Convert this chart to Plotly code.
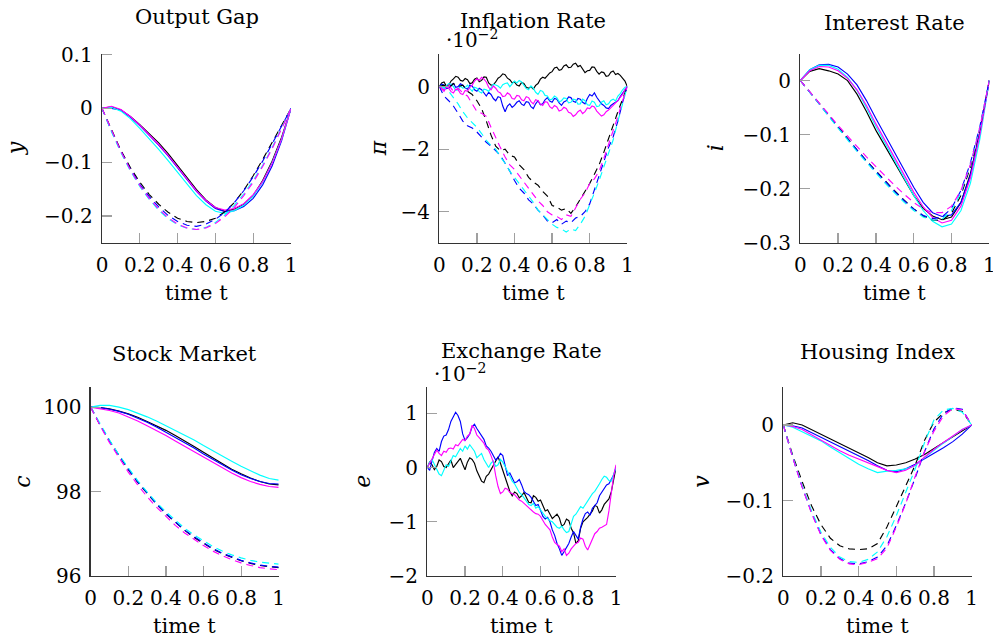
import plotly.graph_objects as go

# ---------------- time grids ----------------
t21 = [0, 0.05, 0.1, 0.15, 0.2, 0.25, 0.3, 0.35, 0.4, 0.45, 0.5, 0.55, 0.6, 0.65, 0.7, 0.75, 0.8, 0.85, 0.9, 0.95, 1]
t41 = [i / 40 for i in range(41)]
t81 = [i / 80 for i in range(81)]

x_ticks = [0, 0.2, 0.4, 0.6, 0.8, 1]
x_tick_labels = ["0", "0.2", "0.4", "0.6", "0.8", "1"]

# ---------------- Output Gap (y) ----------------
gap_black = [0, 0.003, -0.003, -0.015, -0.030, -0.047, -0.064, -0.084, -0.107, -0.129, -0.151, -0.170, -0.184, -0.191, -0.187, -0.178, -0.162, -0.134, -0.098, -0.054, 0.0]
gap_blue = [0, 0.000, -0.003, -0.016, -0.032, -0.050, -0.068, -0.088, -0.110, -0.132, -0.154, -0.172, -0.186, -0.192, -0.190, -0.182, -0.167, -0.142, -0.107, -0.060, 0.0]
gap_cyan = [0, 0.002, -0.005, -0.019, -0.037, -0.056, -0.076, -0.097, -0.119, -0.141, -0.162, -0.179, -0.191, -0.195, -0.190, -0.180, -0.163, -0.137, -0.101, -0.057, 0.0]
gap_magenta = [0, 0.004, -0.002, -0.015, -0.031, -0.049, -0.067, -0.087, -0.109, -0.131, -0.153, -0.171, -0.184, -0.189, -0.186, -0.177, -0.160, -0.136, -0.102, -0.057, 0.0]
gap_black_d = [0, -0.040, -0.078, -0.110, -0.137, -0.160, -0.178, -0.193, -0.204, -0.210, -0.212, -0.210, -0.204, -0.192, -0.175, -0.152, -0.125, -0.095, -0.063, -0.030, 0]
gap_blue_d = [0, -0.042, -0.080, -0.113, -0.141, -0.164, -0.183, -0.199, -0.210, -0.217, -0.219, -0.215, -0.206, -0.193, -0.175, -0.153, -0.127, -0.098, -0.066, -0.032, 0]
gap_cyan_d = [0, -0.043, -0.082, -0.116, -0.145, -0.169, -0.189, -0.205, -0.216, -0.223, -0.225, -0.221, -0.212, -0.198, -0.180, -0.159, -0.134, -0.106, -0.073, -0.037, 0]
gap_magenta_d = [0, -0.041, -0.080, -0.114, -0.143, -0.167, -0.187, -0.203, -0.215, -0.222, -0.225, -0.222, -0.214, -0.201, -0.184, -0.162, -0.137, -0.108, -0.075, -0.038, 0]

# ---------------- Inflation Rate (pi, x 1e-2) ----------------
inf_black = [0, 0.12, 0.15, 0.02, 0.05, 0.18, 0.25, 0.33, 0.30, 0.20,
             0.18, 0.26, 0.22, 0.10, 0.12, 0.24, 0.28, 0.16, 0.20, 0.31,
             0.30, 0.12, 0.05, 0.06, 0.15, 0.27, 0.32, 0.41, 0.38, 0.27,
             0.22, 0.12, 0.15, 0.05, 0.02, 0.13, 0.10, -0.02, -0.05, 0.00,
             -0.08, 0.04, 0.10, 0.24, 0.30, 0.27, 0.35, 0.44, 0.48, 0.60,
             0.62, 0.52, 0.55, 0.66, 0.70, 0.61, 0.62, 0.72, 0.75, 0.64,
             0.68, 0.55, 0.45, 0.51, 0.52, 0.63, 0.62, 0.49, 0.40, 0.47,
             0.45, 0.33, 0.35, 0.46, 0.50, 0.39, 0.42, 0.36, 0.25, 0.18, 0.0]
inf_blue = [0, 0.08, 0.05, -0.06, -0.05, 0.06, 0.10, -0.02, 0.00, 0.09,
            0.05, -0.04, -0.08, 0.05, 0.02, -0.10, -0.15, -0.05, -0.10, -0.22,
            -0.30, -0.18, -0.25, -0.38, -0.45, -0.32, -0.35, -0.62, -0.80, -0.62,
            -0.55, -0.66, -0.60, -0.50, -0.45, -0.56, -0.60, -0.48, -0.50, -0.64,
            -0.70, -0.55, -0.45, -0.58, -0.55, -0.42, -0.35, -0.46, -0.50, -0.38,
            -0.40, -0.52, -0.60, -0.49, -0.45, -0.33, -0.35, -0.47, -0.50, -0.38,
            -0.40, -0.50, -0.55, -0.38, -0.25, -0.30, -0.20, -0.34, -0.45, -0.55,
            -0.60, -0.68, -0.70, -0.60, -0.55, -0.50, -0.45, -0.32, -0.20, -0.12, 0.0]
inf_cyan = [0, 0.04, -0.05, 0.02, 0.10, 0.08, 0.00, -0.12, -0.10, 0.02,
            -0.05, -0.03, 0.05, -0.06, -0.15, -0.02, -0.05, -0.16, -0.20, -0.08,
            -0.10, -0.15, -0.02, 0.08, 0.05, 0.02, -0.05, 0.06, 0.10, 0.12,
            0.00, 0.10, 0.18, 0.12, 0.20, 0.15, 0.05, -0.06, -0.10, 0.02,
            -0.05, -0.18, -0.25, -0.12, -0.15, -0.28, -0.30, -0.42, -0.40, -0.30,
            -0.35, -0.48, -0.45, -0.36, -0.38, -0.52, -0.50, -0.40, -0.42, -0.56,
            -0.55, -0.40, -0.45, -0.58, -0.60, -0.46, -0.50, -0.64, -0.62, -0.50,
            -0.45, -0.58, -0.55, -0.44, -0.40, -0.46, -0.30, -0.22, -0.10, -0.02, 0.0]
inf_magenta = [0, -0.08, -0.15, -0.02, -0.05, -0.16, -0.20, -0.08, -0.10, -0.22,
               -0.25, -0.12, -0.15, -0.02, 0.05, 0.18, 0.25, 0.20, 0.30, 0.24,
               0.15, -0.02, -0.10, 0.02, -0.05, -0.16, -0.20, -0.32, -0.30, -0.20,
               -0.25, -0.38, -0.40, -0.28, -0.30, -0.42, -0.45, -0.32, -0.35, -0.48,
               -0.55, -0.42, -0.45, -0.56, -0.60, -0.48, -0.50, -0.64, -0.70, -0.60,
               -0.65, -0.78, -0.75, -0.66, -0.70, -0.82, -0.85, -0.95, -0.90, -0.80,
               -0.75, -0.86, -0.80, -0.68, -0.70, -0.62, -0.65, -0.78, -0.85, -0.94,
               -0.90, -0.80, -0.75, -0.66, -0.60, -0.52, -0.45, -0.34, -0.25, -0.10, 0.0]
inf_black_d = [0, 0.05, -0.05, 0.10, 0.00, 0.05, -0.15, -0.25, -0.45, -0.70, -1.10, -1.55, -1.90, -2.05, -2.00, -2.20, -2.25, -2.50, -2.65, -2.90,
               -3.05, -3.15, -3.35, -3.50, -3.80, -3.85, -3.95, -3.90, -4.05, -3.85, -3.60, -3.35, -3.10, -2.80, -2.50, -2.10, -1.65, -1.20, -0.80, -0.40, 0]
inf_blue_d = [0, -0.30, -0.45, -0.62, -0.85, -1.10, -1.25, -1.32, -1.45, -1.62, -1.78, -1.90, -2.05, -2.20, -2.45, -2.70, -3.00, -3.25, -3.40, -3.62,
              -3.75, -3.95, -4.10, -4.30, -4.35, -4.25, -4.40, -4.30, -4.35, -4.20, -4.15, -4.00, -3.75, -3.30, -2.85, -2.35, -1.95, -1.60, -1.10, -0.50, 0]
inf_cyan_d = [0, -0.05, -0.15, -0.35, -0.55, -0.80, -1.00, -1.15, -1.30, -1.50, -1.72, -1.88, -2.00, -2.25, -2.45, -2.70, -2.90, -3.10, -3.30, -3.50,
              -3.70, -3.95, -4.10, -4.25, -4.40, -4.50, -4.55, -4.65, -4.55, -4.60, -4.40, -4.15, -3.80, -3.40, -3.00, -2.55, -2.15, -1.70, -1.10, -0.55, 0]
inf_magenta_d = [0, -0.10, 0.05, -0.15, -0.05, -0.20, -0.30, -0.55, -0.80, -0.85, -0.95, -1.30, -1.65, -1.95, -2.25, -2.50, -2.65, -2.85, -3.05, -3.25,
                 -3.45, -3.65, -3.80, -4.00, -4.10, -4.15, -4.25, -4.10, -4.15, -3.85, -3.60, -3.40, -3.10, -2.95, -2.70, -2.30, -1.85, -1.45, -0.95, -0.45, 0]

# ---------------- Interest Rate (i) ----------------
int_black = [0, 0.017, 0.022, 0.018, 0.012, 0.000, -0.025, -0.057, -0.092, -0.122, -0.152, -0.183, -0.212, -0.236, -0.250, -0.257, -0.252, -0.225, -0.172, -0.095, 0]
int_blue = [0, 0.020, 0.029, 0.030, 0.025, 0.012, -0.008, -0.037, -0.070, -0.102, -0.134, -0.166, -0.197, -0.225, -0.244, -0.251, -0.248, -0.225, -0.175, -0.098, 0]
int_cyan = [0, 0.020, 0.028, 0.028, 0.021, 0.006, -0.018, -0.050, -0.085, -0.117, -0.148, -0.180, -0.212, -0.240, -0.260, -0.270, -0.265, -0.240, -0.190, -0.108, 0]
int_magenta = [0, 0.018, 0.026, 0.025, 0.018, 0.004, -0.017, -0.046, -0.080, -0.112, -0.143, -0.175, -0.206, -0.233, -0.253, -0.263, -0.258, -0.232, -0.180, -0.100, 0]
int_black_d = [0, -0.020, -0.042, -0.064, -0.086, -0.107, -0.128, -0.148, -0.167, -0.186, -0.204, -0.221, -0.237, -0.250, -0.258, -0.258, -0.245, -0.212, -0.160, -0.090, 0]
int_blue_d = [0, -0.021, -0.043, -0.065, -0.087, -0.108, -0.129, -0.149, -0.168, -0.187, -0.205, -0.222, -0.237, -0.249, -0.255, -0.252, -0.236, -0.203, -0.152, -0.085, 0]
int_cyan_d = [0, -0.021, -0.043, -0.066, -0.088, -0.110, -0.131, -0.151, -0.171, -0.190, -0.208, -0.225, -0.240, -0.252, -0.258, -0.256, -0.240, -0.207, -0.156, -0.087, 0]
int_magenta_d = [0, -0.020, -0.041, -0.062, -0.083, -0.103, -0.122, -0.141, -0.159, -0.177, -0.194, -0.210, -0.225, -0.237, -0.244, -0.244, -0.232, -0.203, -0.155, -0.087, 0]

# ---------------- Stock Market (c) ----------------
stk_black = [100, 99.99, 99.96, 99.91, 99.84, 99.76, 99.66, 99.56, 99.45, 99.33, 99.21, 99.07, 98.93, 98.79, 98.65, 98.53, 98.42, 98.32, 98.24, 98.18, 98.16]
stk_blue = [100, 99.99, 99.95, 99.90, 99.83, 99.74, 99.64, 99.53, 99.41, 99.29, 99.16, 99.03, 98.89, 98.76, 98.63, 98.51, 98.40, 98.31, 98.24, 98.19, 98.18]
stk_cyan = [100, 100.04, 100.04, 100.00, 99.94, 99.86, 99.77, 99.67, 99.56, 99.45, 99.34, 99.22, 99.09, 98.96, 98.84, 98.72, 98.60, 98.49, 98.39, 98.31, 98.27]
stk_magenta = [100, 99.96, 99.92, 99.86, 99.77, 99.67, 99.56, 99.45, 99.33, 99.20, 99.07, 98.94, 98.81, 98.68, 98.55, 98.44, 98.33, 98.24, 98.17, 98.12, 98.10]
stk_black_d = [100, 99.58, 99.20, 98.85, 98.52, 98.22, 97.95, 97.70, 97.47, 97.27, 97.08, 96.91, 96.77, 96.64, 96.53, 96.44, 96.36, 96.30, 96.25, 96.22, 96.20]
stk_blue_d = [100, 99.58, 99.20, 98.85, 98.53, 98.23, 97.96, 97.71, 97.48, 97.28, 97.09, 96.93, 96.78, 96.65, 96.54, 96.45, 96.37, 96.31, 96.26, 96.23, 96.21]
stk_cyan_d = [100, 99.60, 99.22, 98.87, 98.55, 98.26, 97.99, 97.74, 97.52, 97.32, 97.13, 96.97, 96.83, 96.70, 96.59, 96.50, 96.43, 96.37, 96.33, 96.30, 96.28]
stk_magenta_d = [100, 99.56, 99.16, 98.80, 98.46, 98.16, 97.88, 97.63, 97.41, 97.20, 97.02, 96.86, 96.72, 96.59, 96.48, 96.39, 96.31, 96.25, 96.20, 96.17, 96.15]

# ---------------- Exchange Rate (e, x 1e-2) ----------------
exc_black = [0, 0.10, 0.05, -0.04, 0.02, 0.14, 0.11, 0.02, 0.00, 0.08,
             0.14, 0.00, 0.05, 0.12, 0.17, 0.06, -0.04, 0.10, 0.18, 0.15,
             0.08, -0.06, -0.15, -0.25, -0.28, -0.16, -0.12, -0.04, 0.02, 0.12,
             0.20, 0.08, -0.05, -0.20, -0.30, -0.44, -0.52, -0.45, -0.48, -0.56,
             -0.52, -0.46, -0.55, -0.64, -0.65, -0.52, -0.55, -0.62, -0.60, -0.72,
             -0.80, -0.78, -0.85, -0.94, -0.90, -0.86, -0.93, -1.08, -1.05, -0.95,
             -0.98, -1.12, -1.20, -1.40, -1.35, -1.12, -1.00, -0.96, -0.92, -0.86,
             -0.80, -0.70, -0.72, -0.84, -0.78, -0.68, -0.62, -0.58, -0.45, -0.25, 0.0]
exc_blue = [0, -0.05, 0.12, 0.28, 0.35, 0.30, 0.48, 0.58, 0.60, 0.70,
            0.85, 0.95, 1.02, 0.96, 0.85, 0.62, 0.50, 0.55, 0.62, 0.75,
            0.80, 0.72, 0.66, 0.60, 0.52, 0.40, 0.36, 0.30, 0.22, 0.14,
            0.18, 0.26, 0.22, 0.05, -0.15, -0.10, -0.20, -0.28, -0.26, -0.22,
            -0.32, -0.44, -0.48, -0.50, -0.55, -0.64, -0.70, -0.68, -0.80, -0.90,
            -0.95, -0.92, -1.00, -1.15, -1.25, -1.40, -1.50, -1.62, -1.55, -1.48,
            -1.40, -1.28, -1.18, -1.25, -1.32, -1.10, -0.95, -0.85, -0.82, -0.88,
            -0.75, -0.70, -0.65, -0.52, -0.45, -0.38, -0.32, -0.30, -0.22, -0.14, 0.0]
exc_cyan = [0, 0.10, 0.15, 0.05, -0.02, -0.12, -0.15, -0.04, 0.05, 0.02,
            0.12, 0.22, 0.20, 0.28, 0.35, 0.30, 0.40, 0.34, 0.42, 0.36,
            0.30, 0.18, 0.22, 0.26, 0.15, 0.06, 0.00, 0.08, 0.12, 0.02,
            0.05, 0.15, 0.10, 0.02, -0.08, -0.15, -0.25, -0.30, -0.38, -0.46,
            -0.50, -0.55, -0.62, -0.68, -0.70, -0.66, -0.75, -0.72, -0.78, -0.86,
            -0.90, -0.94, -0.98, -1.00, -1.05, -1.10, -1.12, -1.08, -1.15, -1.20,
            -1.18, -1.02, -0.90, -0.86, -0.80, -0.72, -0.75, -0.68, -0.62, -0.55,
            -0.48, -0.44, -0.38, -0.30, -0.22, -0.16, -0.18, -0.24, -0.25, -0.12, 0.0]
exc_magenta = [0, 0.08, 0.18, 0.25, 0.32, 0.26, 0.22, 0.30, 0.28, 0.35,
               0.36, 0.34, 0.42, 0.40, 0.46, 0.52, 0.50, 0.58, 0.62, 0.78,
               0.72, 0.60, 0.55, 0.50, 0.45, 0.36, 0.32, 0.22, 0.10, -0.15,
               -0.35, -0.48, -0.45, -0.38, -0.40, -0.46, -0.48, -0.50, -0.55, -0.60,
               -0.62, -0.66, -0.70, -0.75, -0.78, -0.82, -0.85, -0.86, -0.90, -0.98,
               -1.05, -1.10, -1.15, -1.28, -1.38, -1.42, -1.45, -1.55, -1.50, -1.62,
               -1.58, -1.50, -1.45, -1.40, -1.38, -1.30, -1.32, -1.45, -1.52, -1.42,
               -1.30, -1.22, -1.18, -1.12, -1.10, -1.08, -1.05, -0.80, -0.45, -0.15, 0.05]

# ---------------- Housing Index (v) ----------------
hou_black = [0, 0.003, 0.000, -0.006, -0.012, -0.018, -0.024, -0.030, -0.036, -0.043, -0.050, -0.054, -0.053, -0.050, -0.045, -0.039, -0.031, -0.023, -0.015, -0.007, 0]
hou_blue = [0, -0.001, -0.004, -0.010, -0.017, -0.023, -0.029, -0.035, -0.041, -0.047, -0.054, -0.060, -0.062, -0.058, -0.052, -0.045, -0.037, -0.030, -0.022, -0.012, 0]
hou_cyan = [0, -0.003, -0.009, -0.015, -0.021, -0.029, -0.037, -0.045, -0.052, -0.058, -0.063, -0.061, -0.060, -0.058, -0.054, -0.043, -0.033, -0.024, -0.015, -0.006, 0]
hou_magenta = [0, -0.002, -0.006, -0.013, -0.020, -0.028, -0.034, -0.040, -0.045, -0.050, -0.055, -0.060, -0.063, -0.060, -0.053, -0.042, -0.032, -0.023, -0.015, -0.006, 0]
hou_black_d = [0, -0.040, -0.075, -0.107, -0.132, -0.150, -0.160, -0.164, -0.165, -0.164, -0.157, -0.135, -0.108, -0.080, -0.053, -0.020, 0.004, 0.016, 0.021, 0.018, 0]
hou_blue_d = [0, -0.043, -0.082, -0.116, -0.145, -0.165, -0.177, -0.183, -0.184, -0.181, -0.175, -0.160, -0.133, -0.103, -0.070, -0.035, -0.005, 0.015, 0.023, 0.021, 0]
hou_cyan_d = [0, -0.042, -0.080, -0.114, -0.142, -0.162, -0.175, -0.181, -0.182, -0.178, -0.168, -0.148, -0.120, -0.090, -0.058, -0.023, 0.007, 0.020, 0.022, 0.017, 0]
hou_magenta_d = [0, -0.043, -0.082, -0.117, -0.146, -0.166, -0.178, -0.184, -0.185, -0.182, -0.177, -0.163, -0.135, -0.104, -0.068, -0.035, -0.008, 0.012, 0.022, 0.020, 0]

# ---------------- panel definitions ----------------
COLORS = ["black", "#0000ff", "#00ffff", "#ff00ff"]
W, H = 993, 637

panels = [
    dict(title="Output Gap", ylab="<i>y</i>", t=t21, td=t21,
         solid=[gap_black, gap_blue, gap_cyan, gap_magenta],
         dashed=[gap_black_d, gap_blue_d, gap_cyan_d, gap_magenta_d],
         yrange=[-0.25, 0.102], yticks=[0.1, 0, -0.1, -0.2], ytxt=["0.1", "0", "−0.1", "−0.2"],
         box=(102, 291, 53.5, 243), title_y=17, ylab_x=15, scale=False),
    dict(title="Inflation Rate", ylab="<i>π</i>", t=t81, td=t41,
         solid=[inf_black, inf_blue, inf_cyan, inf_magenta],
         dashed=[inf_black_d, inf_blue_d, inf_cyan_d, inf_magenta_d],
         yrange=[-5.0, 1.06], yticks=[0, -2, -4], ytxt=["0", "−2", "−4"],
         box=(439.3, 627.3, 53.5, 243), title_y=21, ylab_x=378, scale=True),
    dict(title="Interest Rate", ylab="<i>i</i>", t=t21, td=t21,
         solid=[int_black, int_blue, int_cyan, int_magenta],
         dashed=[int_black_d, int_blue_d, int_cyan_d, int_magenta_d],
         yrange=[-0.3, 0.05], yticks=[0, -0.1, -0.2, -0.3], ytxt=["0", "−0.1", "−0.2", "−0.3"],
         box=(800.3, 989.3, 53.5, 243), title_y=23, ylab_x=715, scale=False),
    dict(title="Stock Market", ylab="<i>c</i>", t=t21, td=t21,
         solid=[stk_black, stk_blue, stk_cyan, stk_magenta],
         dashed=[stk_black_d, stk_blue_d, stk_cyan_d, stk_magenta_d],
         yrange=[96, 100.47], yticks=[100, 98, 96], ytxt=["100", "98", "96"],
         box=(90.7, 278.7, 387.3, 576), title_y=354, ylab_x=23, scale=False),
    dict(title="Exchange Rate", ylab="<i>e</i>", t=t81, td=t81,
         solid=[exc_black, exc_blue, exc_cyan, exc_magenta],
         dashed=[],
         yrange=[-2, 1.48], yticks=[1, 0, -1, -2], ytxt=["1", "0", "−1", "−2"],
         box=(427.3, 616, 387.3, 576), title_y=351, ylab_x=363, scale=True),
    dict(title="Housing Index", ylab="<i>v</i>", t=t21, td=t21,
         solid=[hou_black, hou_blue, hou_cyan, hou_magenta],
         dashed=[hou_black_d, hou_blue_d, hou_cyan_d, hou_magenta_d],
         yrange=[-0.2, 0.05], yticks=[0, -0.1, -0.2], ytxt=["0", "−0.1", "−0.2"],
         box=(783.3, 971.7, 387.3, 576), title_y=351.5, ylab_x=702, scale=False),
]

FONT = "DejaVu Serif"
fig = go.Figure()
annotations = []
layout = {}

for k, p in enumerate(panels):
    idx = "" if k == 0 else str(k + 1)
    xa, ya = "x" + idx, "y" + idx
    for series, col in zip(p["solid"], COLORS):
        fig.add_trace(go.Scatter(x=p["t"], y=series, mode="lines", xaxis=xa, yaxis=ya,
                                 line=dict(color=col, width=1.15), showlegend=False))
    for series, col in zip(p["dashed"], COLORS):
        fig.add_trace(go.Scatter(x=p["td"], y=series, mode="lines", xaxis=xa, yaxis=ya,
                                 line=dict(color=col, width=1.15, dash="7px,5px"), showlegend=False))
    x0, x1, y0, y1 = p["box"]
    common = dict(showgrid=False, zeroline=False, showline=True, linecolor="#333", linewidth=1.3,
                  ticks="inside", ticklen=10, tickcolor="#a0a0a0", tickwidth=1.2, automargin=False,
                  ticklabeloverflow="allow",
                  tickfont=dict(family=FONT, size=20, color="black"))
    layout["xaxis" + idx] = dict(common, domain=[x0 / W, x1 / W], anchor=ya, range=[0, 1],
                                 tickvals=x_ticks, ticktext=x_tick_labels, tickangle=0,
                                 ticklabelstandoff=4)
    layout["yaxis" + idx] = dict(common, domain=[1 - y1 / H, 1 - y0 / H], anchor=xa, range=p["yrange"],
                                 tickvals=p["yticks"], ticktext=p["ytxt"], ticklabelstandoff=4)
    cx = (x0 + x1) / 2
    annotations.append(dict(text=p["title"], x=cx / W, y=1 - p["title_y"] / H, xref="paper", yref="paper",
                            xanchor="center", yanchor="middle", showarrow=False,
                            font=dict(family=FONT, size=21, color="black")))
    annotations.append(dict(text="time t", x=cx / W, y=1 - (y1 + 50) / H, xref="paper", yref="paper",
                            xanchor="center", yanchor="middle", showarrow=False,
                            font=dict(family=FONT, size=21, color="black")))
    annotations.append(dict(text=p["ylab"], x=p["ylab_x"] / W, y=1 - ((y0 + y1) / 2) / H, xref="paper", yref="paper",
                            xanchor="center", yanchor="middle", showarrow=False, textangle=-90,
                            font=dict(family=FONT, size=22, color="black")))
    if p["scale"]:
        annotations.append(dict(text="·10<sup>−2</sup>", x=(x0 + 5) / W, y=1 - (y0 + 1) / H, xref="paper", yref="paper",
                                xanchor="left", yanchor="bottom", showarrow=False,
                                font=dict(family=FONT, size=20, color="black")))

fig.update_layout(width=W, height=H, margin=dict(l=0, r=0, t=0, b=0, autoexpand=False),
                  paper_bgcolor="white", plot_bgcolor="white", hovermode=False,
                  annotations=annotations, **layout)

POST = ("document.body.style.margin='0';document.body.style.overflow='hidden';"
        "var gd=document.getElementById('{plot_id}');"
        "Plotly.newPlot(gd, gd.data, gd.layout, {staticPlot:true, displayModeBar:false});")

fig.write_html("out.html", config={"staticPlot": True, "displayModeBar": False}, post_script=POST)
